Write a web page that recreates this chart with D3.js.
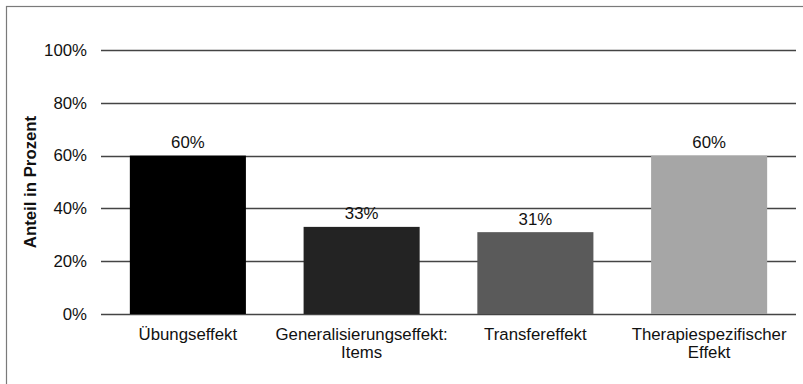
<!DOCTYPE html>
<html><head><meta charset="utf-8">
<script src="https://cdn.jsdelivr.net/npm/d3@7"></script>
<style>body{margin:0;background:#fff}svg{display:block}text{font-family:"Liberation Sans",Arial,sans-serif}</style>
</head><body>
<svg id="c" width="803" height="384"></svg>
<script>
const categories = [["Übungseffekt"], ["Generalisierungseffekt:", "Items"], ["Transfereffekt"], ["Therapiespezifischer", "Effekt"]];
const values = [60, 33, 31, 60];
const colors = ["#000000", "#232323", "#5a5a5a", "#a6a6a6"];
const yTicks = [0, 20, 40, 60, 80, 100];
const yTitle = "Anteil in Prozent";

(function () {
const FS = 16.8;
const svg = d3.select("#c");
svg.append("rect").attr("x", 6.5).attr("y", 6.5).attr("width", 820).attr("height", 400)
  .attr("fill", "none").attr("stroke", "#7a7a7a").attr("stroke-width", 1.2);

const pL = 101, pR = 796, pT = 50, pB = 314;
const x = d3.scaleBand().domain(d3.range(categories.length)).range([pL, pR]).paddingInner(0.332).paddingOuter(0.166);
const y = d3.scaleLinear().domain([0, 100]).range([pB, pT]);

const g = svg.append("g");
g.selectAll("line.grid").data(yTicks).join("line")
  .attr("x1", pL).attr("x2", pR)
  .attr("y1", d => Math.round(y(d)) + 0.5).attr("y2", d => Math.round(y(d)) + 0.5)
  .attr("stroke", "#444").attr("stroke-width", 1.4);

const yAxis = d3.axisLeft(y).tickValues(yTicks).tickFormat(d => d + "%").tickSize(0).tickPadding(0);
const ya = svg.append("g").attr("transform", `translate(87,0)`).call(yAxis);
ya.select(".domain").remove();
ya.selectAll("text").attr("font-size", FS).attr("fill", "#111").attr("font-family", "Liberation Sans, Arial, sans-serif");

g.selectAll("rect.bar").data(values).join("rect")
  .attr("x", (d, i) => x(i)).attr("width", x.bandwidth())
  .attr("y", d => y(d)).attr("height", d => y(0) - y(d))
  .attr("fill", (d, i) => colors[i]);

g.selectAll("text.val").data(values).join("text")
  .attr("x", (d, i) => x(i) + x.bandwidth() / 2).attr("y", d => y(d) - 7.5)
  .attr("text-anchor", "middle").attr("font-size", FS).attr("fill", "#111")
  .text(d => d + "%");

const cl = g.selectAll("text.cat").data(categories).join("text")
  .attr("text-anchor", "middle").attr("font-size", FS).attr("fill", "#111")
  .attr("transform", (d, i) => `translate(${x(i) + x.bandwidth() / 2},340)`);
cl.selectAll("tspan").data(d => d).join("tspan")
  .attr("x", 0).attr("dy", (d, j) => j === 0 ? 0 : 18).text(d => d);

svg.append("text").attr("transform", "translate(36,182) rotate(-90)")
  .attr("text-anchor", "middle").attr("font-size", FS).attr("font-weight", "bold").attr("fill", "#111")
  .text(yTitle);
})();
</script>
</body></html>
